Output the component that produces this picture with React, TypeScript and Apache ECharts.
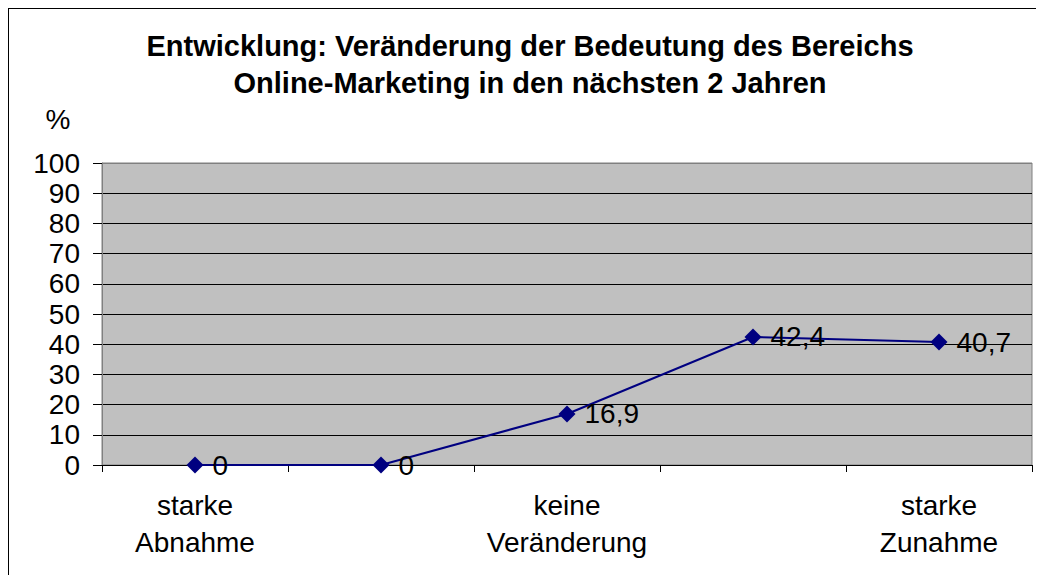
import React, { useEffect, useRef } from "react";
import * as echarts from "echarts";

const categories = ["starke\nAbnahme", "", "keine\nVeränderung", "", "starke\nZunahme"];
const values = [0, 0, 16.9, 42.4, 40.7];
const titleLines = [
  "Entwicklung: Veränderung der Bedeutung des Bereichs",
  "Online-Marketing in den nächsten 2 Jahren",
];
const yUnit = "%";

const FONT = "'Liberation Sans', Arial, sans-serif";

export default function App() {
  const ref = useRef<HTMLDivElement>(null);
  useEffect(() => {
    if (!ref.current) return;
    const chart = echarts.init(ref.current, undefined, { renderer: "svg" });
    const splitColors = Array.from({ length: 11 }, (_, i) => (i === 10 ? "#808080" : "#000000"));
    chart.setOption({
      animation: false,
      backgroundColor: "#ffffff",
      title: {
        text: titleLines.join("\n"),
        left: 521,
        textAlign: "center",
        top: 18,
        padding: 0,
        textStyle: {
          fontFamily: FONT,
          fontSize: 29,
          fontWeight: "bold",
          color: "#000",
          lineHeight: 37,
        },
      },
      graphic: [
        {
          type: "text",
          x: 49,
          y: 110,
          style: {
            text: yUnit,
            fontFamily: FONT,
            fontSize: 28,
            fill: "#000",
            textAlign: "center",
            textVerticalAlign: "middle",
          },
        },
      ],
      grid: {
        left: 93,
        top: 154,
        width: 930,
        height: 302,
        show: true,
        backgroundColor: "#C0C0C0",
        borderColor: "#808080",
        borderWidth: 1,
      },
      xAxis: {
        type: "category",
        data: categories,
        boundaryGap: true,
        axisLine: { show: true, lineStyle: { color: "#000", width: 1 } },
        axisTick: { show: true, length: 7, lineStyle: { color: "#000" } },
        axisLabel: {
          interval: 0,
          fontFamily: FONT,
          fontSize: 28,
          color: "#000",
          lineHeight: 37,
          margin: 22,
        },
        splitLine: { show: false },
      },
      yAxis: {
        type: "value",
        min: 0,
        max: 100,
        interval: 10,
        axisLine: { show: true, lineStyle: { color: "#808080", width: 1 } },
        axisTick: { show: true, length: 9, lineStyle: { color: "#000" } },
        axisLabel: {
          fontFamily: FONT,
          fontSize: 28,
          color: "#000",
          margin: 22,
        },
        splitLine: { show: true, lineStyle: { color: splitColors, width: 1 } },
      },
      series: [
        {
          type: "line",
          data: values,
          symbol: "diamond",
          symbolSize: 17,
          lineStyle: { color: "#000080", width: 2 },
          itemStyle: { color: "#000080" },
          label: {
            show: true,
            position: "right",
            distance: 9,
            fontFamily: FONT,
            fontSize: 28,
            color: "#000",
            formatter: (p: any) => String(p.value).replace(".", ","),
          },
        },
      ],
    });
    return () => chart.dispose();
  }, []);
  return (
    <div
      style={{
        width: 1036,
        height: 567,
        borderLeft: "1px solid #000",
        borderTop: "1px solid #000",
        boxSizing: "border-box",
        overflow: "hidden",
      }}
    >
      <div ref={ref} style={{ width: 1035, height: 566 }} />
    </div>
  );
}
